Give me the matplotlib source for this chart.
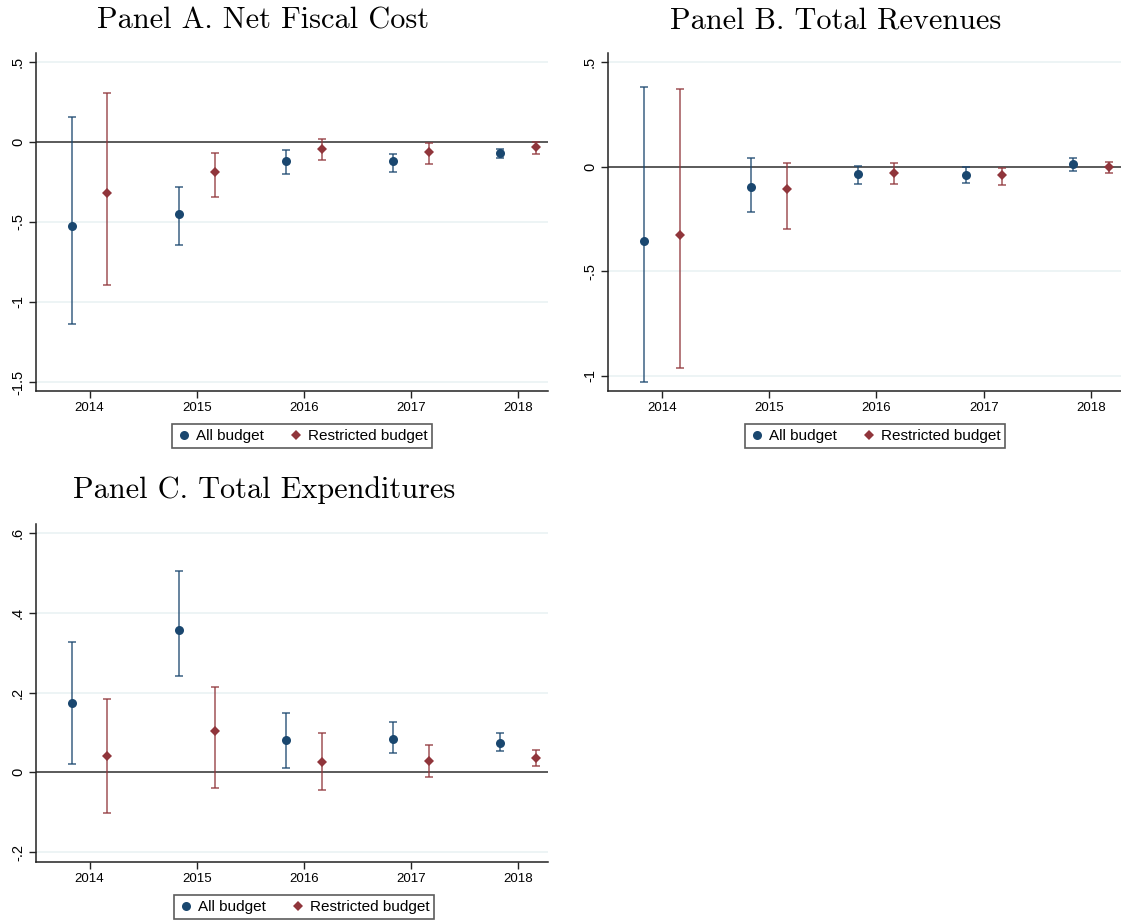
import numpy as np
import matplotlib
matplotlib.use('Agg')
from matplotlib import pyplot as plt
from matplotlib.lines import Line2D

# Event-study style estimates
years = [2014, 2015, 2016, 2017, 2018]

# Panel A. Net Fiscal Cost
a_all = [-0.523, -0.448, -0.121, -0.123, -0.069]
a_all_lo = [-1.14, -0.644, -0.202, -0.188, -0.102]
a_all_hi = [0.152, -0.281, -0.052, -0.075, -0.046]
a_res = [-0.321, -0.19, -0.046, -0.067, -0.035]
a_res_lo = [-0.892, -0.344, -0.113, -0.138, -0.077]
a_res_hi = [0.306, -0.073, 0.019, -0.010, -0.004]

# Panel B. Total Revenues
b_all = [-0.354, -0.094, -0.034, -0.037, 0.014]
b_all_lo = [-1.027, -0.218, -0.080, -0.075, -0.018]
b_all_hi = [0.383, 0.043, 0.005, -0.002, 0.045]
b_res = [-0.324, -0.104, -0.027, -0.038, 0.0]
b_res_lo = [-0.963, -0.295, -0.080, -0.088, -0.029]
b_res_hi = [0.375, 0.019, 0.018, -0.003, 0.024]

# Panel C. Total Expenditures
c_all = [0.173, 0.356, 0.080, 0.083, 0.073]
c_all_lo = [0.021, 0.241, 0.011, 0.049, 0.053]
c_all_hi = [0.326, 0.504, 0.150, 0.126, 0.099]
c_res = [0.041, 0.104, 0.027, 0.029, 0.035]
c_res_lo = [-0.101, -0.039, -0.044, -0.011, 0.016]
c_res_hi = [0.183, 0.215, 0.099, 0.068, 0.057]

navy = '#1a476f'
maroon = '#90353b'
sans = 'Liberation Sans'

fig = plt.figure(figsize=(11.21, 9.23), dpi=100)
W, H = 1121, 923


def box(left, top, right, bottom):
    return [left / W, (H - bottom) / H, (right - left) / W, (bottom - top) / H]


def panel(rect, title, title_xy, legend_xy, est, yticks, ylabels, ylim):
    ax = fig.add_axes(rect)
    x = np.array(years, dtype=float)
    for i, (c, lo, hi, col, mk, ms, off) in enumerate([
            (est[0], est[1], est[2], navy, 'o', 6.5, -1 / 6),
            (est[3], est[4], est[5], maroon, 'D', 5.2, 1 / 6)]):
        c = np.array(c)
        err = [c - np.array(lo), np.array(hi) - c]
        ax.errorbar(x + off, c, yerr=err, fmt='none', ecolor=col, elinewidth=1.1,
                    capsize=3.2, capthick=1.1, alpha=0.85, zorder=3)
        ax.plot(x + off, c, linestyle='none', marker=mk, color=col, markersize=ms,
                markeredgewidth=0, zorder=4)
    ax.axhline(0, color='#4d4d4d', lw=1.3, zorder=2)
    for t in yticks:
        if t != 0:
            ax.axhline(t, color='#eaf2f3', lw=1.2, zorder=1)
    ax.set_xlim(2013.5, 2018.28)
    ax.set_ylim(*ylim)
    ax.set_xticks(years)
    ax.set_xticklabels([str(y) for y in years], fontfamily=sans, fontsize=9.5)
    ax.set_yticks(yticks)
    ax.set_yticklabels(ylabels, fontfamily=sans, fontsize=10.5, rotation=90,
                       va='center')
    ax.spines['top'].set_visible(False)
    ax.spines['right'].set_visible(False)
    for s in ['left', 'bottom']:
        ax.spines[s].set_color('#222222')
        ax.spines[s].set_linewidth(1.1)
    ax.tick_params(axis='both', length=5, width=1, color='#222222', pad=3)

    fig.text(title_xy[0] / W, 1 - title_xy[1] / H, title, fontfamily='cmr10',
             fontsize=21.8, ha='center', va='center')

    handles = [
        Line2D([], [], linestyle='none', marker='o', color=navy, markersize=6.5,
               markeredgewidth=0, label='All budget'),
        Line2D([], [], linestyle='none', marker='D', color=maroon, markersize=5.2,
               markeredgewidth=0, label='Restricted budget'),
    ]
    leg = ax.legend(handles=handles, loc='center', ncol=2,
                    bbox_to_anchor=(legend_xy[0] / W, 1 - legend_xy[1] / H),
                    bbox_transform=fig.transFigure, frameon=True, fancybox=False,
                    prop={'family': sans, 'size': 11}, handletextpad=0.3,
                    columnspacing=1.6, handlelength=1.0, borderpad=0.3,
                    borderaxespad=0)
    leg.get_frame().set_edgecolor('#333333')
    leg.get_frame().set_linewidth(1.2)
    return ax


panel(box(36, 53, 548, 391), 'Panel A. Net Fiscal Cost', (263, 21), (302, 436),
      [a_all, a_all_lo, a_all_hi, a_res, a_res_lo, a_res_hi],
      [0.5, 0, -0.5, -1, -1.5], ['.5', '0', '-.5', '-1', '-1.5'], (-1.556, 0.554))

panel(box(608, 53, 1121, 391), 'Panel B. Total Revenues', (836, 21), (875, 436),
      [b_all, b_all_lo, b_all_hi, b_res, b_res_lo, b_res_hi],
      [0.5, 0, -0.5, -1], ['.5', '0', '-.5', '-1'], (-1.072, 0.545))

panel(box(36, 524, 548, 862), 'Panel C. Total Expenditures', (264, 490), (304, 907),
      [c_all, c_all_lo, c_all_hi, c_res, c_res_lo, c_res_hi],
      [0.6, 0.4, 0.2, 0, -0.2], ['.6', '.4', '.2', '0', '-.2'], (-0.225, 0.623))

fig.savefig('out.png', dpi=100, facecolor='white')
